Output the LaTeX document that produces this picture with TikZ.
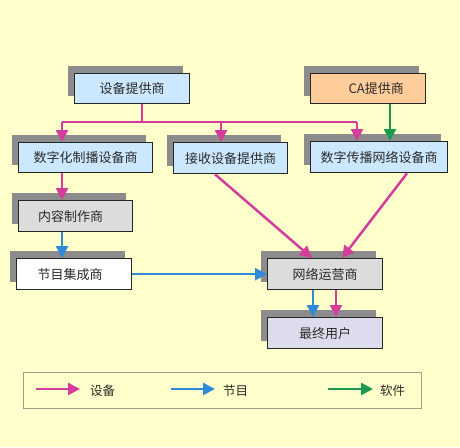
\documentclass[tikz,border=0pt]{standalone}
\usepackage{fontspec}
\setmainfont{Noto Sans CJK SC}
\usetikzlibrary{arrows.meta,shadows}
\definecolor{bg}{HTML}{FFFFCC}
\definecolor{pk}{HTML}{D63C9C}
\definecolor{bl}{HTML}{2E8AD6}
\definecolor{gr}{HTML}{1A9A50}
\definecolor{lb}{HTML}{CCE8FF}
\definecolor{lo}{HTML}{FFCC9C}
\definecolor{lg}{HTML}{DCDCDC}
\definecolor{lv}{HTML}{DCDCEC}
\definecolor{tx}{HTML}{2A2A2A}
\definecolor{sh}{HTML}{8C8C8C}
\definecolor{fr}{HTML}{A0A088}
\tikzset{
  boxnode/.style={draw=black!85, line width=1.3pt, rectangle, anchor=north west,
    inner sep=0pt, text=tx, font=\fontsize{13}{15}\selectfont,
    drop shadow={shadow xshift=-7pt, shadow yshift=8pt, fill=sh, opacity=1}},
  conn/.style={line width=2.5pt},
  tip/.style={-{Triangle[length=12pt,width=12pt]}},
  lbl/.style={text=tx, font=\fontsize{12.5}{15}\selectfont, anchor=west, inner sep=0pt}
}
\begin{document}
\begin{tikzpicture}[x=1pt,y=-1pt]
\fill[bg] (0,0) rectangle (460,447);
\useasboundingbox (0,0) rectangle (460,447);
% boxes
\node[boxnode, fill=lb, minimum width=115pt, minimum height=30pt] (sb) at (74,73) {设备提供商};
\node[boxnode, fill=lo, minimum width=115pt, minimum height=30pt] (ca) at (310,73) {\hspace*{16pt}CA提供商};
\node[boxnode, fill=lb, minimum width=134pt, minimum height=30pt] (szh) at (18,142) {数字化制播设备商};
\node[boxnode, fill=lb, minimum width=114pt, minimum height=31pt] (js) at (173,142) {接收设备提供商};
\node[boxnode, fill=lb, minimum width=137pt, minimum height=31pt] (sc) at (310,141) {数字传播网络设备商};
\node[boxnode, fill=lg, minimum width=114pt, minimum height=31pt] (nr) at (18,200) {\hspace*{-10pt}内容制作商};
\node[boxnode, fill=white, minimum width=115pt, minimum height=31pt] (jm) at (16,258) {\hspace*{-8pt}节目集成商};
\node[boxnode, fill=lg, minimum width=115pt, minimum height=31pt] (wl) at (267,258) {网络运营商};
\node[boxnode, fill=lv, minimum width=115pt, minimum height=31pt] (zz) at (267,317) {最终用户};
% coordinates
\coordinate (j) at (142,122);
\coordinate (h1) at (62,122);
\coordinate (h2) at (221,122);
\coordinate (h3) at (357,122);
\coordinate (g) at (390,0);
\coordinate (d1) at (215,0);
\coordinate (d2) at (312,0);
\coordinate (d3) at (407,0);
\coordinate (d4) at (342,0);
\coordinate (e1) at (313,0);
\coordinate (e2) at (336,0);
% connectors
\draw[conn, pk] (sb.south -| j) -- (j);
\draw[conn, pk] (h1) -- (h3);
\draw[conn, pk, tip] (h1) -- (szh.north -| h1);
\draw[conn, pk, tip] (h2) -- (js.north -| h2);
\draw[conn, pk, tip] (h3) -- (sc.north -| h3);
\draw[conn, gr, tip] (ca.south -| g) -- (sc.north -| g);
\draw[conn, pk, tip] (szh.south -| h1) -- (nr.north -| h1);
\draw[conn, bl, tip] (nr.south -| h1) -- (jm.north -| h1);
\draw[conn, bl, tip] (jm.east) -- (wl.west);
\draw[conn, pk, tip] (js.south -| d1) -- (wl.north -| d2);
\draw[conn, pk, tip] (sc.south -| d3) -- (wl.north -| d4);
\draw[conn, bl, tip] (wl.south -| e1) -- (zz.north -| e1);
\draw[conn, pk, tip] (wl.south -| e2) -- (zz.north -| e2);
% legend
\node[draw=fr, line width=1pt, rectangle, anchor=north west, minimum width=398pt, minimum height=36pt, inner sep=0pt] (lg) at (23,372) {};
\coordinate (l1a) at (36,389);
\coordinate (l1b) at (80,389);
\coordinate (l2a) at (171,389);
\coordinate (l2b) at (215,389);
\coordinate (l3a) at (328,389);
\coordinate (l3b) at (373,389);
\draw[conn, pk, tip] (l1a) -- (l1b);
\draw[conn, bl, tip] (l2a) -- (l2b);
\draw[conn, gr, tip] (l3a) -- (l3b);
\node[lbl] (t1) at (90,391) {设备};
\node[lbl] (t2) at (223,391) {节目};
\node[lbl] (t3) at (380,391) {软件};
\end{tikzpicture}
\end{document}
